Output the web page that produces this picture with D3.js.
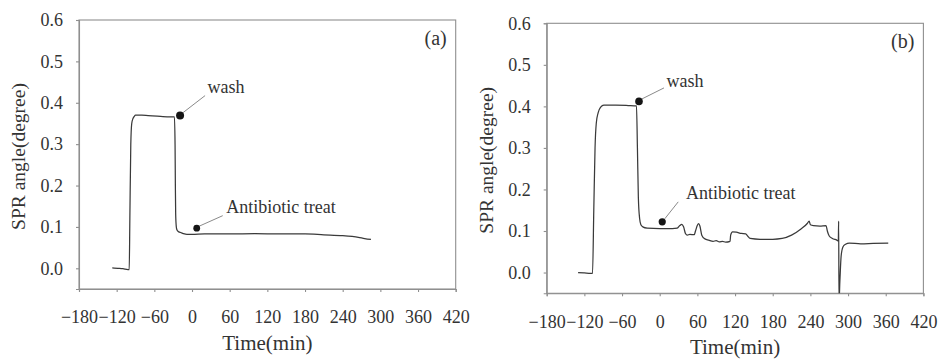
<!DOCTYPE html>
<html>
<head>
<meta charset="utf-8">
<script src="https://cdn.jsdelivr.net/npm/d3@7"></script>
<style>
  html, body { margin: 0; padding: 0; background: #fff; }
  svg { display: block; }
  text { font-family: "Liberation Serif", "Times New Roman", serif; fill: #333; }
</style>
</head>
<body>
<svg id="chart" width="941" height="362"></svg>
<script>
// Axis tick values shared by both panels
const timeTicks = [-180, -120, -60, 0, 60, 120, 180, 240, 300, 360, 420];
const angleTicks = [0.0, 0.1, 0.2, 0.3, 0.4, 0.5, 0.6];
const timeDomain = [-180, 420];
const angleDomain = [-0.05, 0.6];

// Panel (a): SPR angle shift over time
const timeA = [-127, -118, -110, -102, -100, -99, -97.5, -96, -94, -92, -90, -80, -70, -50, -35, -28,
  -27, -26.5, -26, -25, -24, -22, -19, -14, -8, 0, 20, 60, 100, 140, 180, 210, 240, 255, 265, 275, 285];
const angleA = [0.001, 0.000, -0.001, -0.003, -0.003, 0.12, 0.30, 0.350, 0.362, 0.367, 0.370, 0.370, 0.369, 0.367, 0.366, 0.366,
  0.30, 0.20, 0.13, 0.100, 0.093, 0.089, 0.087, 0.084, 0.082, 0.082, 0.083, 0.083, 0.084, 0.083, 0.083, 0.081, 0.079, 0.077, 0.075, 0.072, 0.070];

// Panel (b): SPR angle shift over time
const timeB = [-130, -120, -110, -107, -105, -103, -101, -98, -94, -89, -70, -50, -37, -35.5, -34, -32, -30, -27, -20, 0, 20, 28,
  32, 35, 38, 41, 44, 48, 55, 57, 60, 62, 64, 67, 72, 78, 85, 90, 95, 100, 105, 112, 113, 116, 122, 130, 137, 140, 144,
  160, 180, 195, 210, 225, 235, 238, 240, 245, 255, 265, 267, 270, 275, 282, 284.5,
  285, 285.6, 287, 289, 292, 296, 302, 320, 340, 364];
const angleB = [0.000, -0.001, -0.002, -0.002, 0.15, 0.30, 0.36, 0.385, 0.398, 0.403, 0.403, 0.402, 0.401, 0.30, 0.18, 0.13, 0.115, 0.110, 0.107, 0.106, 0.106, 0.107,
  0.113, 0.116, 0.110, 0.094, 0.090, 0.092, 0.091, 0.100, 0.114, 0.118, 0.112, 0.090, 0.081, 0.078, 0.075, 0.077, 0.074, 0.075, 0.073, 0.075, 0.090, 0.098, 0.097, 0.094, 0.093, 0.088, 0.082,
  0.080, 0.080, 0.082, 0.090, 0.105, 0.118, 0.124, 0.115, 0.113, 0.112, 0.113, 0.100, 0.088, 0.082, 0.078, 0.076,
  0.124, -0.07, -0.02, 0.040, 0.062, 0.068, 0.071, 0.069, 0.070, 0.071];

// Event markers: [time, angle]
const markersA = [[-19, 0.369], [7.5, 0.097]];
const markersB = [[-33, 0.412], [4, 0.122]];
const markerLabels = ["wash", "Antibiotic treat"];
const panelLabels = ["(a)", "(b)"];

const svg = d3.select("#chart");
const serif = "'Liberation Serif', 'Times New Roman', serif";

const panels = [
  { left: 79, top: 20, width: 376.7, height: 269, time: timeA, angle: angleA, markers: markersA, label: panelLabels[0],
    radii: [4, 3.4],
    leaders: [{ from: [3, -3], to: [25, -20], text: [27.5, -23] }, { from: [2.5, -2], to: [26, -12.5], text: [29.5, -15] }] },
  { left: 546.7, top: 23.3, width: 376.7, height: 270, time: timeB, angle: angleB, markers: markersB, label: panelLabels[1],
    radii: [3.8, 3.6],
    leaders: [{ from: [3, -2.5], to: [25, -13.5], text: [27.5, -14.5] }, { from: [2.5, -3], to: [16, -20], text: [23.7, -22.4] }] }
];

panels.forEach((p, i) => {
  const g = svg.append("g").attr("transform", `translate(${p.left},${p.top})`);
  const x = d3.scaleLinear().domain(timeDomain).range([0, p.width]);
  const y = d3.scaleLinear().domain(angleDomain).range([p.height, 0]);

  const clipId = `plot-clip-${i}`;
  g.append("clipPath").attr("id", clipId)
    .append("rect").attr("width", p.width).attr("height", p.height);

  // Frame
  g.append("rect")
    .attr("width", p.width).attr("height", p.height)
    .attr("fill", "none").attr("stroke", "#8f8f8f").attr("stroke-width", 1.1);

  // Axes (d3's default format draws negatives with a true minus sign)
  const xAxis = g.append("g").attr("transform", `translate(0,${p.height})`)
    .call(d3.axisBottom(x).tickValues(timeTicks).tickFormat(d3.format("d")).tickSize(3).tickPadding(18.5));
  const yAxis = g.append("g")
    .call(d3.axisLeft(y).tickValues(angleTicks).tickFormat(d3.format(".1f")).tickSize(3).tickPadding(13));
  [xAxis, yAxis].forEach(a => {
    a.attr("font-family", serif).attr("font-size", 18);
    a.select(".domain").attr("stroke", "#8f8f8f").attr("stroke-width", 1.1);
    a.selectAll(".tick line").attr("stroke", "#8f8f8f").attr("stroke-width", 1.1);
    a.selectAll(".tick text").attr("fill", "#333");
  });

  // Axis titles
  g.append("text")
    .attr("x", p.width / 2).attr("y", p.height + 61)
    .attr("text-anchor", "middle").attr("font-size", 21)
    .text("Time(min)");
  g.append("text")
    .attr("transform", `translate(-54,${p.height / 2 + 2}) rotate(-90)`)
    .attr("text-anchor", "middle").attr("font-size", 19.5)
    .text("SPR angle(degree)");

  // Trace
  const pts = p.time.map((t, k) => [t, p.angle[k]]);
  g.append("path")
    .datum(pts)
    .attr("clip-path", `url(#${clipId})`)
    .attr("fill", "none").attr("stroke", "#3a3a3a").attr("stroke-width", 1.25)
    .attr("stroke-linejoin", "round")
    .attr("d", d3.line().x(d => x(d[0])).y(d => y(d[1])).curve(d3.curveMonotoneX));

  // Event markers with leader lines
  p.markers.forEach((m, k) => {
    const cx = x(m[0]), cy = y(m[1]);
    const L = p.leaders[k];
    g.append("line")
      .attr("x1", cx + L.from[0]).attr("y1", cy + L.from[1])
      .attr("x2", cx + L.to[0]).attr("y2", cy + L.to[1])
      .attr("stroke", "#8a8a8a").attr("stroke-width", 1);
    g.append("circle").attr("cx", cx).attr("cy", cy).attr("r", p.radii[k]).attr("fill", "#151515");
    g.append("text")
      .attr("x", cx + L.text[0]).attr("y", cy + L.text[1])
      .attr("font-size", 18)
      .text(markerLabels[k]);
  });

  // Panel tag
  g.append("text")
    .attr("x", p.width - 9).attr("y", 25)
    .attr("text-anchor", "end").attr("font-size", 20)
    .text(p.label);
});
</script>
</body>
</html>
